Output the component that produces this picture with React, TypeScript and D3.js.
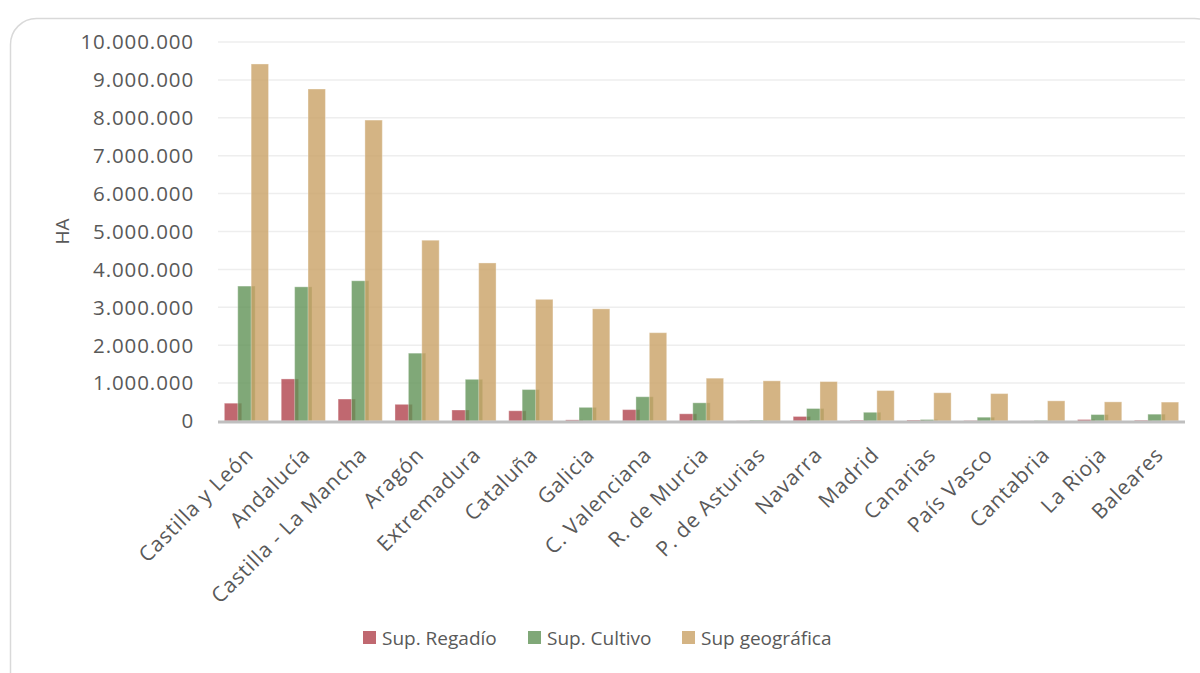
import React from "react";
import * as d3 from "d3";

const categories = [
  "Castilla y León", "Andalucía", "Castilla - La Mancha", "Aragón", "Extremadura",
  "Cataluña", "Galicia", "C. Valenciana", "R. de Murcia", "P. de Asturias",
  "Navarra", "Madrid", "Canarias", "País Vasco", "Cantabria", "La Rioja", "Baleares",
];
const regadio = [470000, 1110000, 580000, 440000, 290000, 270000, 30000, 300000, 190000, 5000, 120000, 20000, 25000, 10000, 2000, 40000, 20000];
const cultivo = [3560000, 3540000, 3700000, 1790000, 1100000, 830000, 360000, 640000, 480000, 20000, 330000, 230000, 40000, 100000, 10000, 170000, 180000];
const geografica = [9420000, 8760000, 7940000, 4770000, 4170000, 3210000, 2960000, 2330000, 1130000, 1060000, 1040000, 803000, 745000, 723000, 532000, 505000, 499000];
const seriesNames = ["Sup. Regadío", "Sup. Cultivo", "Sup geográfica"];
const yTicks = [0, 1000000, 2000000, 3000000, 4000000, 5000000, 6000000, 7000000, 8000000, 9000000, 10000000];

const colors = ["rgb(176,66,76)", "rgb(96,146,86)", "rgb(201,161,101)"];
const legendColors = ["rgb(192,104,112)", "rgb(128,168,120)", "rgb(212,180,132)"];

const fmt = (v: number) => (v === 0 ? "0" : d3.format(",")(v).replace(/,/g, "."));

export default function App() {
  const W = 1200, H = 673;
  const x0 = 218, x1 = 1185, yTop = 42, yBase = 421;
  const x = d3.scaleBand<string>().domain(categories).range([x0, x1]).padding(0);
  const y = d3.scaleLinear().domain([0, 10000000]).range([yBase, yTop]);
  const bw = 17.4, step = 13.4;
  const groupW = 2 * step + bw;
  const data = [regadio, cultivo, geografica];
  const font = "'Open Sans', sans-serif";

  return (
    <svg width={W} height={H} style={{ position: "absolute", left: 0, top: 0, background: "#fff" }}>
      <rect x={10.5} y={18.5} width={1210} height={680} rx={26} fill="#fff" stroke="#d9d9d9" strokeWidth={1.5} />
      {yTicks.map((t) => (
        <g key={t}>
          {t > 0 && <line x1={x0} x2={x1} y1={y(t)} y2={y(t)} stroke="#eeeeee" strokeWidth={1.5} />}
          <text x={194} y={y(t)} dy="0.36em" textAnchor="end" fontFamily={font} fontSize={20.5} letterSpacing={0.9} fill="#595959">
            {fmt(t)}
          </text>
        </g>
      ))}
      <text transform={`translate(69,${(yTop + yBase) / 2}) rotate(-90)`} textAnchor="middle" fontFamily={font} fontSize={19} fill="#595959">
        HA
      </text>
      {data.map((vals, si) =>
        vals.map((v, i) => {
          const cx = (x(categories[i]) as number) + x.bandwidth() / 2;
          const bx = cx - groupW / 2 + si * step;
          return (
            <rect key={`${si}-${i}`} x={bx} y={y(v)} width={bw} height={yBase - y(v)}
              fill={colors[si]} fillOpacity={0.8} stroke="#fff" strokeOpacity={0.35} strokeWidth={1} />
          );
        })
      )}
      <line x1={x0} x2={x1} y1={yBase + 1} y2={yBase + 1} stroke="#bfbfbf" strokeWidth={3} />
      {categories.map((c) => {
        const cx = (x(c) as number) + x.bandwidth() / 2;
        return (
          <text key={c} transform={`translate(${cx + 3},${yBase + 30}) rotate(-45)`} textAnchor="end"
            fontFamily={font} fontSize={21} letterSpacing={0.8} fill="#595959" dy="0.35em">
            {c}
          </text>
        );
      })}
      {(() => {
        const xs = [363, 528, 682];
        return seriesNames.map((n, i) => (
          <g key={n}>
            <rect x={xs[i]} y={631} width={13} height={13} fill={legendColors[i]} />
            <text x={xs[i] + 19} y={638} dy="0.35em" fontFamily={font} fontSize={19} fill="#595959">{n}</text>
          </g>
        ));
      })()}
    </svg>
  );
}
